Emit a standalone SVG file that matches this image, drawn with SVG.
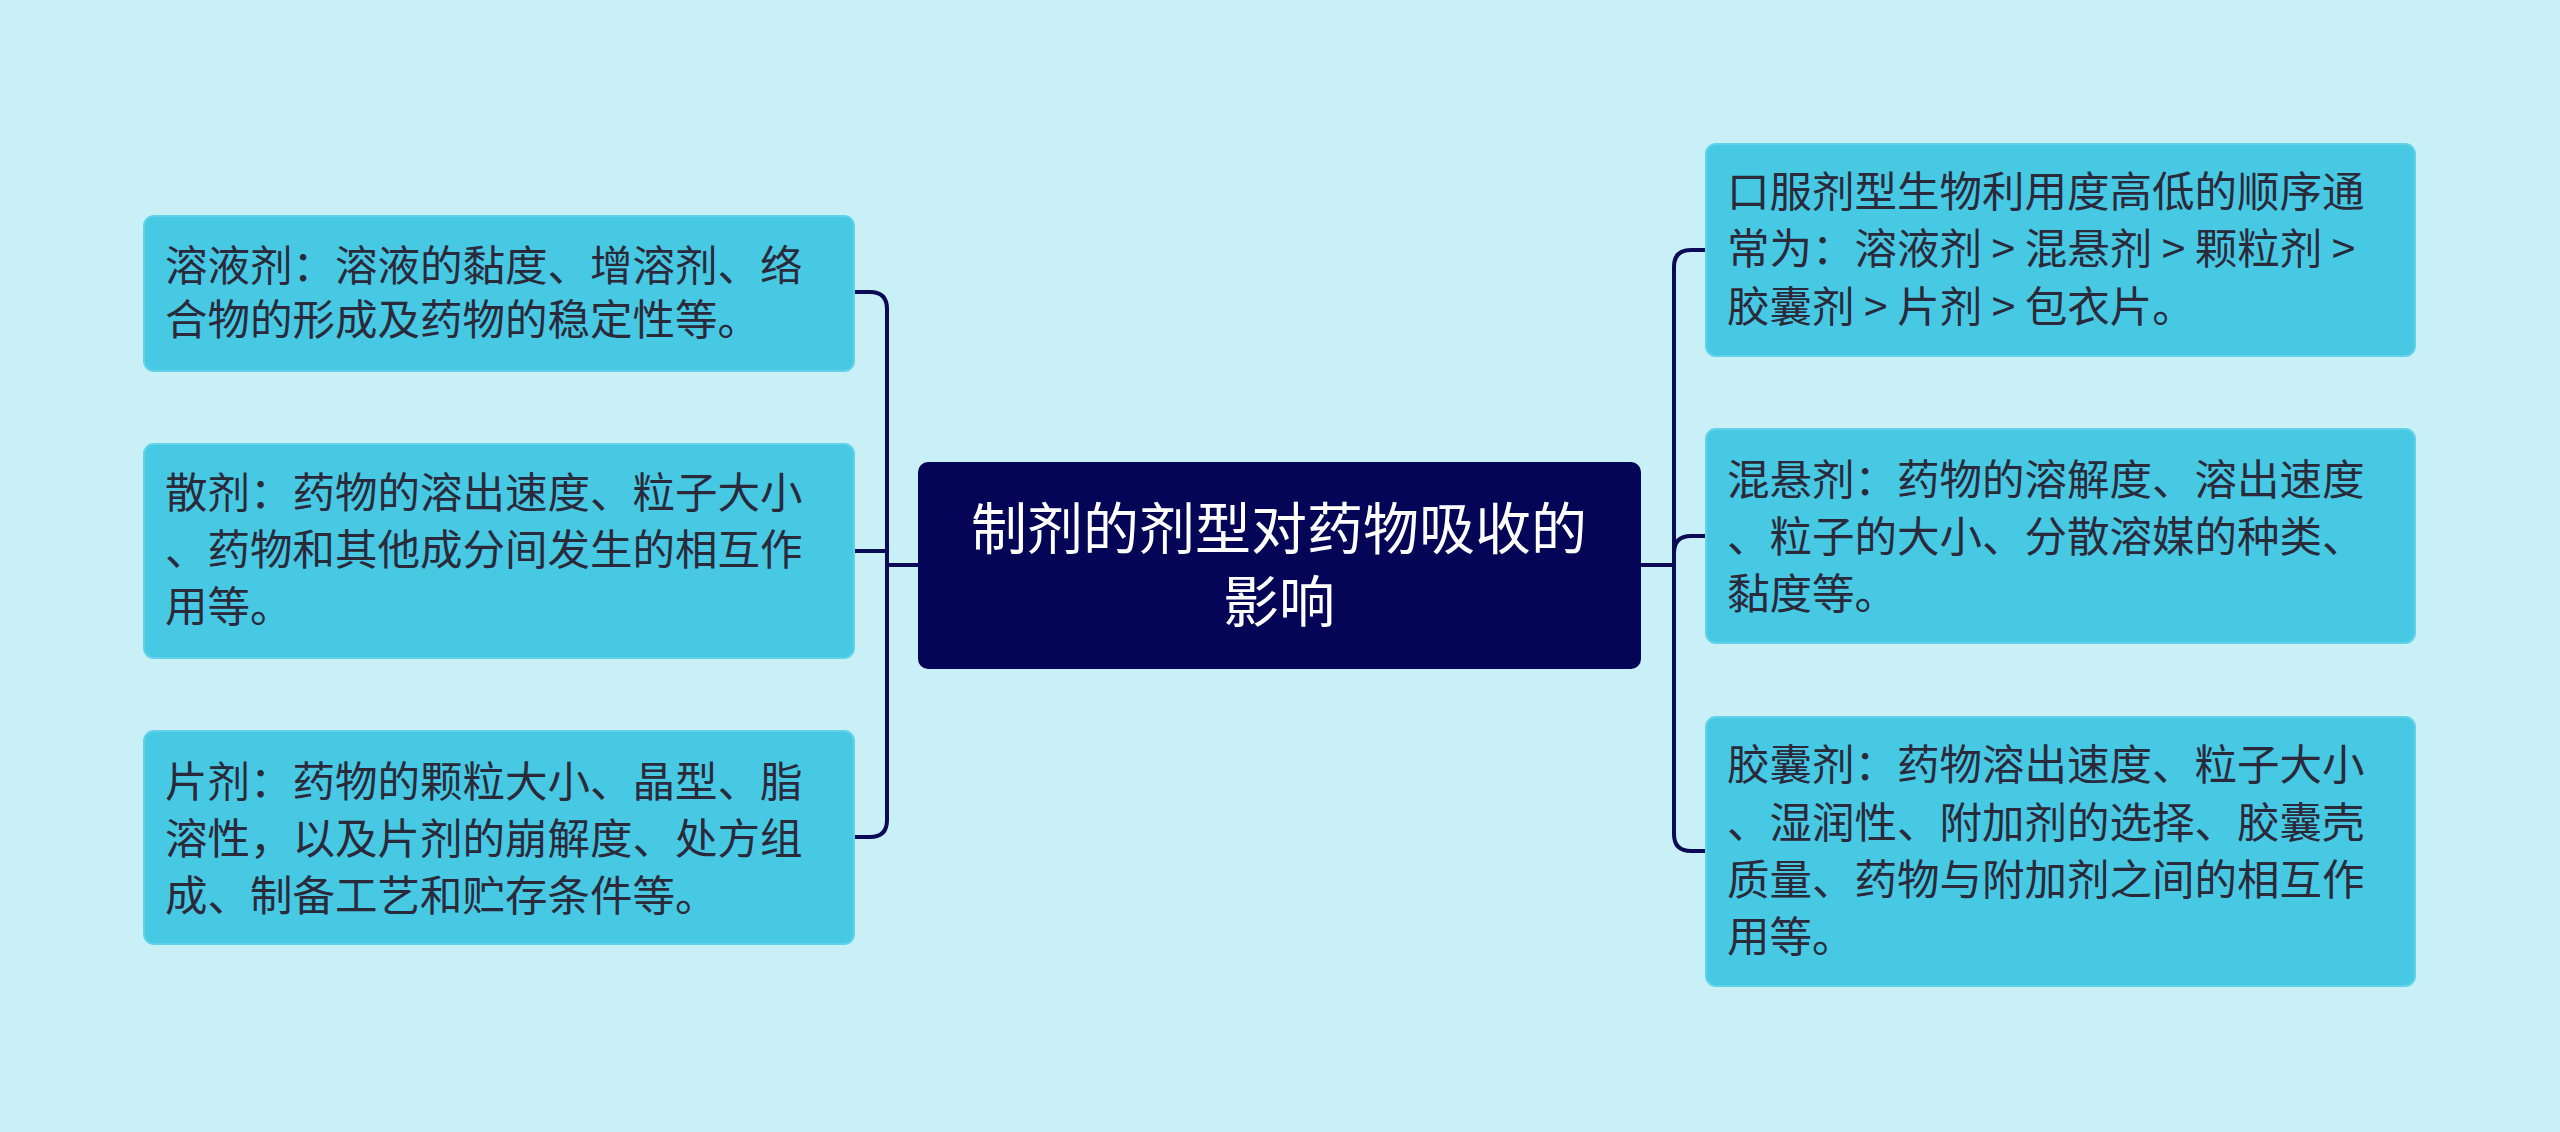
<svg xmlns="http://www.w3.org/2000/svg" width="2560" height="1132" viewBox="0 0 2560 1132">
<style>
.n{fill:#47c8e3;stroke:#5fd2ea;stroke-width:2}
.t{font-family:"Noto Sans CJK SC","Liberation Sans",sans-serif;font-size:42.5px;fill:#2a2a3a}
.c{font-family:"Noto Sans CJK SC","Liberation Sans",sans-serif;font-size:56px;fill:#ffffff;text-anchor:middle}
.l{fill:none;stroke:#0b0b55;stroke-width:4}
</style>
<rect width="2560" height="1132" fill="#c9f0f7"/>
<g id="connectors">
<path class="l" d="M918 565 H887 M854 292 H870 Q887 292 887 309 V820 Q887 837 870 837 H854 M854 551 H887"/>
<path class="l" d="M1641 565 H1674 M1706 250 H1691 Q1674 250 1674 267 V834 Q1674 851 1691 851 H1706 M1706 536 H1691 Q1674 536 1674 553"/>
</g>
<g id="center"><rect x="918" y="462" width="723" height="207" rx="10" fill="#050557"/>
<text class="c" x="1279" y="549">制剂的剂型对药物吸收的</text><text class="c" x="1279" y="622">影响</text></g>
<g id="l1"><rect class="n" x="144" y="216" width="710" height="155" rx="10"/>
<text class="t" x="165" y="281">溶液剂：溶液的黏度、增溶剂、络</text><text class="t" x="165" y="335">合物的形成及药物的稳定性等。</text></g>
<g id="l2"><rect class="n" x="144" y="444" width="710" height="214" rx="10"/>
<text class="t" x="165" y="508">散剂：药物的溶出速度、粒子大小</text><text class="t" x="165" y="565">、药物和其他成分间发生的相互作</text><text class="t" x="165" y="622">用等。</text></g>
<g id="l3"><rect class="n" x="144" y="731" width="710" height="213" rx="10"/>
<text class="t" x="165" y="797">片剂：药物的颗粒大小、晶型、脂</text><text class="t" x="165" y="854">溶性，以及片剂的崩解度、处方组</text><text class="t" x="165" y="911">成、制备工艺和贮存条件等。</text></g>
<g id="r1"><rect class="n" x="1706" y="144" width="709" height="212" rx="10"/>
<text class="t" x="1727" y="207">口服剂型生物利用度高低的顺序通</text><text class="t" x="1727" y="264">常为：溶液剂 &gt; 混悬剂 &gt; 颗粒剂 &gt;</text><text class="t" x="1727" y="322">胶囊剂 &gt; 片剂 &gt; 包衣片。</text></g>
<g id="r2"><rect class="n" x="1706" y="429" width="709" height="214" rx="10"/>
<text class="t" x="1727" y="495">混悬剂：药物的溶解度、溶出速度</text><text class="t" x="1727" y="552">、粒子的大小、分散溶媒的种类、</text><text class="t" x="1727" y="609">黏度等。</text></g>
<g id="r3"><rect class="n" x="1706" y="717" width="709" height="269" rx="10"/>
<text class="t" x="1727" y="780">胶囊剂：药物溶出速度、粒子大小</text><text class="t" x="1727" y="838">、湿润性、附加剂的选择、胶囊壳</text><text class="t" x="1727" y="895">质量、药物与附加剂之间的相互作</text><text class="t" x="1727" y="952">用等。</text></g>
</svg>
